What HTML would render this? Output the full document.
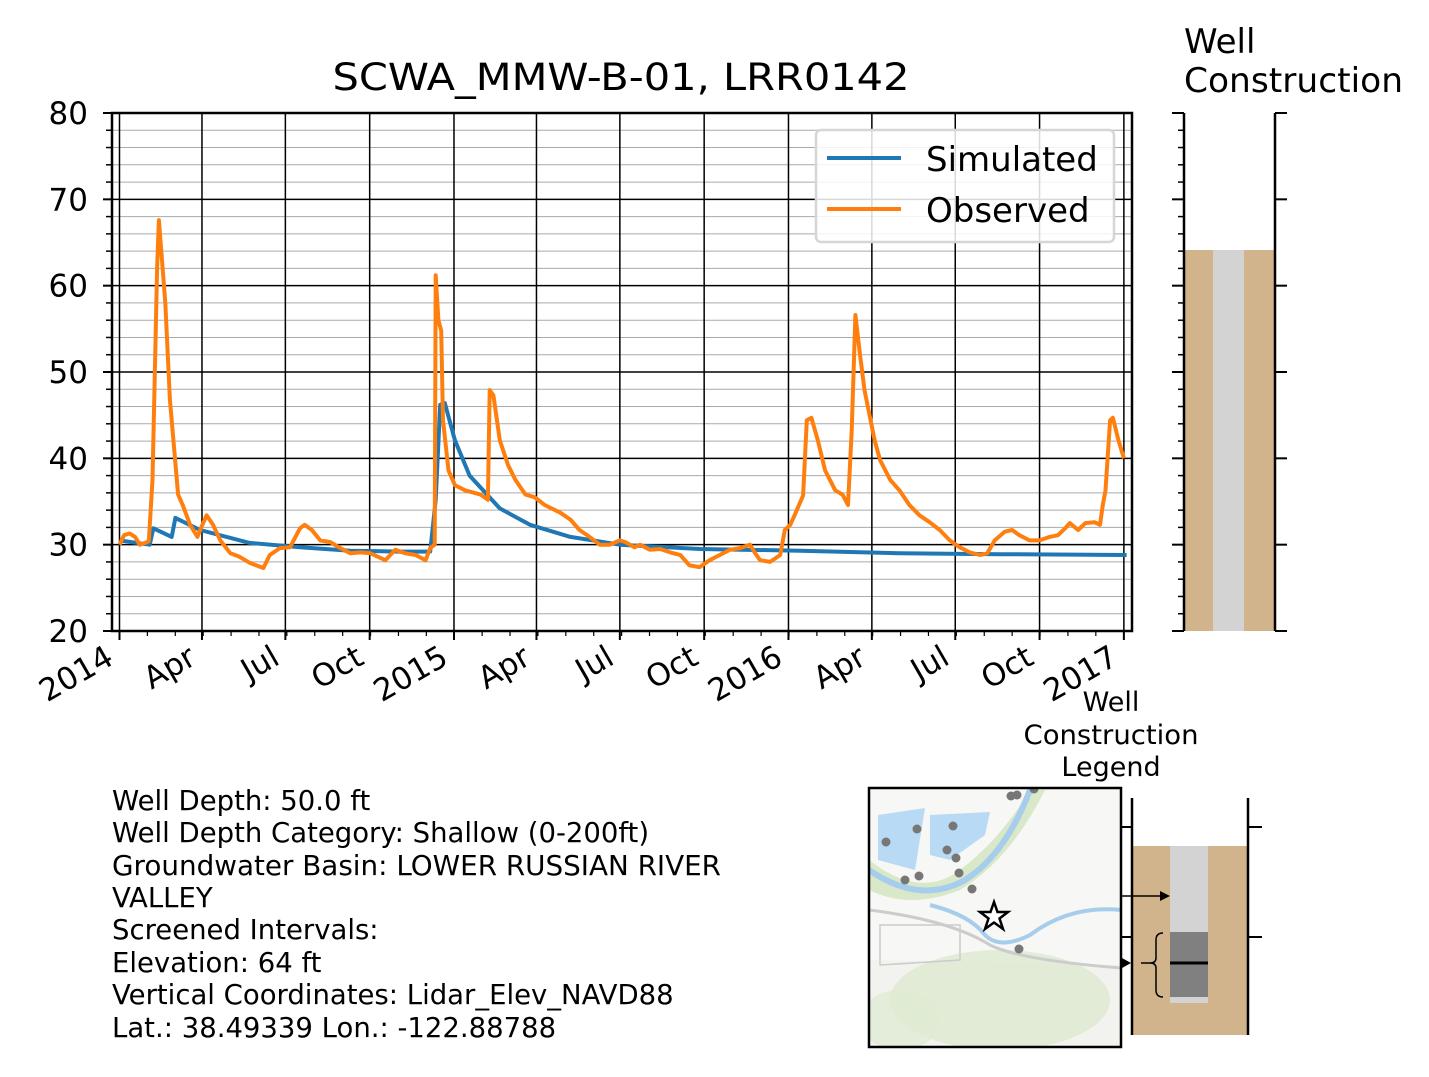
<!DOCTYPE html>
<html><head><meta charset="utf-8"><style>
body{margin:0;background:#fff}
svg text{font-family:"DejaVu Sans","Liberation Sans",sans-serif;fill:#000}
</style></head><body>
<svg id="chart" width="1429" height="1072" viewBox="0 0 1429 1072" xmlns="http://www.w3.org/2000/svg">
<rect width="1429" height="1072" fill="#fff"/>
<text x="621" y="90" font-size="37" text-anchor="middle" textLength="577" lengthAdjust="spacingAndGlyphs">SCWA_MMW-B-01, LRR0142</text>
<g id="grid"></g>
<g id="series"></g>
<g id="axes"></g>
<g>
<rect x="816" y="130" width="298" height="112" rx="5" fill="#fff" fill-opacity="0.85" stroke="#d6d6d6" stroke-width="2.5"/>
<line x1="827" y1="158" x2="901" y2="158" stroke="#1f77b4" stroke-width="4"/>
<text x="926" y="171" font-size="34">Simulated</text>
<line x1="827" y1="209" x2="901" y2="209" stroke="#ff7f0e" stroke-width="4"/>
<text x="926" y="222" font-size="34">Observed</text>
</g>

<g>
<text x="1184" y="53" font-size="34">Well</text>
<text x="1184" y="92" font-size="34" textLength="219" lengthAdjust="spacingAndGlyphs">Construction</text>
<rect x="1184" y="250" width="91" height="381" fill="#d2b48c"/>
<rect x="1213" y="250" width="31" height="381" fill="#d3d3d3"/>
<line x1="1184" y1="113" x2="1184" y2="631" stroke="#000" stroke-width="2.5"/>
<line x1="1275" y1="113" x2="1275" y2="631" stroke="#000" stroke-width="2.5"/>
<g id="wcticks"></g>
</g>

<g font-size="27.5">
<text x="112" y="810">Well Depth: 50.0 ft</text>
<text x="112" y="842">Well Depth Category: Shallow (0-200ft)</text>
<text x="112" y="875" textLength="609" lengthAdjust="spacingAndGlyphs">Groundwater Basin: LOWER RUSSIAN RIVER</text>
<text x="112" y="907">VALLEY</text>
<text x="112" y="939">Screened Intervals:</text>
<text x="112" y="972">Elevation: 64 ft</text>
<text x="112" y="1004">Vertical Coordinates: Lidar_Elev_NAVD88</text>
<text x="112" y="1037">Lat.: 38.49339 Lon.: -122.88788</text>
</g>

<g>
<clipPath id="mc"><rect x="869" y="788" width="252" height="259"/></clipPath>
<g clip-path="url(#mc)">
<rect x="869" y="788" width="252" height="259" fill="#f7f7f5"/>
<path d="M869,960 L1121,965 L1121,1047 L869,1047 Z" fill="#f2f2ee"/>
<ellipse cx="1000" cy="1000" rx="110" ry="50" fill="#dde8cf" opacity="0.8"/>
<ellipse cx="900" cy="1020" rx="40" ry="30" fill="#e0ebd3" opacity="0.8"/>
<path d="M869,860 Q920,900 960,870 Q1000,840 1030,790 L1045,790 Q1010,860 960,890 Q910,910 869,890Z" fill="#d9e8c9"/>
<path d="M878,815 L925,808 L915,870 L878,860Z" fill="#b9daf5"/>
<path d="M930,815 L990,812 L985,835 L950,860 L930,855Z" fill="#b9daf5"/>
<path d="M869,870 Q920,905 965,880 Q1005,855 1030,790" fill="none" stroke="#a7cdec" stroke-width="6"/>
<path d="M930,905 Q970,915 985,935 Q1000,950 1030,935 Q1070,905 1121,910" fill="none" stroke="#a7cdec" stroke-width="4"/>
<path d="M869,910 Q950,920 990,945 Q1020,960 1121,968" fill="none" stroke="#ccc" stroke-width="3"/>
<path d="M880,925 L960,925 L960,960 L880,965Z" fill="none" stroke="#ccc" stroke-width="1.5"/>
<g fill="#777">
<circle cx="1011" cy="796" r="4.5"/><circle cx="1017" cy="795" r="4.5"/><circle cx="1034" cy="789" r="4.5"/>
<circle cx="917" cy="829" r="4.5"/><circle cx="953" cy="826" r="4.5"/><circle cx="886" cy="842" r="4.5"/>
<circle cx="947" cy="850" r="4.5"/><circle cx="956" cy="858" r="4.5"/><circle cx="959" cy="873" r="4.5"/>
<circle cx="905" cy="880" r="4.5"/><circle cx="919" cy="876" r="4.5"/><circle cx="972" cy="889" r="4.5"/>
<circle cx="1019" cy="949" r="4.5"/>
</g>
<path d="M994,902 L997.5,912 L1008,912 L999.5,918.5 L1003,929 L994,922.5 L985,929 L988.5,918.5 L980,912 L990.5,912Z" fill="#fff" stroke="#000" stroke-width="2.5"/>
</g>
<rect x="869" y="788" width="252" height="259" fill="none" stroke="#000" stroke-width="2.5"/>
</g>

<g>
<text x="1111" y="711" font-size="27" text-anchor="middle">Well</text>
<text x="1111" y="744" font-size="27" text-anchor="middle" textLength="175" lengthAdjust="spacingAndGlyphs">Construction</text>
<text x="1111" y="776" font-size="27" text-anchor="middle">Legend</text>
<rect x="1132" y="846" width="116" height="189" fill="#d2b48c"/>
<rect x="1170" y="846" width="38" height="86" fill="#d3d3d3"/>
<rect x="1170" y="932" width="38" height="65" fill="#808080"/>
<rect x="1170" y="997" width="38" height="6" fill="#d3d3d3"/>
<line x1="1170" y1="963" x2="1208" y2="963" stroke="#000" stroke-width="3"/>
<line x1="1132" y1="798" x2="1132" y2="1035" stroke="#000" stroke-width="2.5"/>
<line x1="1248" y1="798" x2="1248" y2="1035" stroke="#000" stroke-width="2.5"/>
<line x1="1122" y1="827" x2="1132" y2="827" stroke="#000" stroke-width="2"/>
<line x1="1248" y1="827" x2="1262" y2="827" stroke="#000" stroke-width="2"/>
<line x1="1122" y1="937" x2="1132" y2="937" stroke="#000" stroke-width="2"/>
<line x1="1248" y1="937" x2="1262" y2="937" stroke="#000" stroke-width="2"/>
<line x1="1122" y1="896" x2="1160" y2="896" stroke="#000" stroke-width="1.5"/>
<path d="M1160,891 L1170,896 L1160,901Z" fill="#000"/>
<path d="M1122,958 L1131,963 L1122,968Z" fill="#000"/>
<path d="M1163,933 Q1156,933 1156,940 L1156,958 Q1156,963 1150,963 Q1156,963 1156,968 L1156,990 Q1156,997 1163,997" fill="none" stroke="#000" stroke-width="1.5"/>
<line x1="1141" y1="963" x2="1150" y2="963" stroke="#000" stroke-width="1.5"/>
</g>
</svg>
<script>
const obsDays=[0,5,11,17,22,28,32,36,41,43,50,55,64,69,77,85,88,95,102,110,121,131,142,157,164,175,186,197,202,210,219,230,241,252,263,274,290,301,312,323,334,339,344,345,348,351,353,359,366,377,394,402,404,408,415,424,432,443,453,464,481,492,502,513,524,535,546,552,562,568,579,590,601,612,622,633,644,655,666,677,688,693,699,710,721,726,732,737,746,750,755,762,770,781,789,795,799,803,808,813,824,830,841,851,862,873,884,895,906,917,928,939,947,955,966,974,982,993,1004,1015,1024,1032,1037,1046,1054,1064,1070,1073,1076,1081,1084,1090,1096];
const obsVals=[30,31.1,31.3,30.9,30,30.2,30.4,37.5,62,67.6,58,46.8,35.8,34.6,32.3,30.9,31.7,33.4,32.3,30.5,29,28.6,27.9,27.3,28.8,29.6,29.7,31.9,32.3,31.7,30.5,30.3,29.6,29,29.1,29,28.2,29.4,29,28.8,28.2,29.6,30,61.2,56,54.8,44.4,38.6,36.9,36.3,35.8,35.2,47.9,47.3,42.1,39.2,37.5,35.8,35.5,34.6,33.7,32.9,31.7,30.9,30,30,30.5,30.3,29.7,30,29.4,29.5,29.1,28.8,27.6,27.4,28.2,28.8,29.4,29.6,30,29.1,28.2,28,28.8,31.7,32.3,33.5,35.7,44.4,44.7,42.1,38.6,36.3,35.8,34.6,43.2,56.6,52,47.9,42.1,39.8,37.5,36.3,34.6,33.4,32.6,31.7,30.5,29.7,29.1,28.8,29,30.5,31.5,31.7,31.1,30.5,30.5,30.9,31.1,31.9,32.5,31.7,32.5,32.6,32.3,34.6,36.3,44.4,44.7,42.1,40];
const simDays=[0,33,37,57,61,88,142,197,252,306,339,345,350,355,366,382,415,448,492,546,633,743,851,961,1099];
const simVals=[30.5,30,31.9,30.9,33.1,31.7,30.2,29.7,29.3,29.2,29.2,35.2,46.2,46.4,42.1,38,34.2,32.3,30.9,30,29.5,29.3,29,28.9,28.8];
const yTicks=[20,30,40,50,60,70,80];
const xTickDays=[0,90,181,273,365,455,546,638,730,821,912,1004,1096];
const xTickLabels=["2014","Apr","Jul","Oct","2015","Apr","Jul","Oct","2016","Apr","Jul","Oct","2017"];
const X0=112,X1=1132,Y0=113,Y1=631;
const xs=d=>119.5+d*0.9164;
const ys=v=>Y1-(v-20)*(Y1-Y0)/60;
const NS="http://www.w3.org/2000/svg";
function mk(tag,attrs,parent){const e=document.createElementNS(NS,tag);for(const k in attrs)e.setAttribute(k,attrs[k]);parent.appendChild(e);return e;}
const grid=document.getElementById('grid'),ser=document.getElementById('series'),ax=document.getElementById('axes'),wct=document.getElementById('wcticks');
for(let v=20;v<=80;v+=2){
  if(v%10===0)continue;
  const g=mk('line',{x1:X0,x2:X1,y1:ys(v),y2:ys(v),stroke:'#aaa','stroke-width':1},grid);
  
  
  mk('line',{x1:X0-6,x2:X0,y1:ys(v),y2:ys(v),stroke:'#000','stroke-width':1.5},ax);
  mk('line',{x1:1178,x2:1184,y1:ys(v),y2:ys(v),stroke:'#000','stroke-width':1.5},wct);
}
yTicks.forEach(v=>{
  const g=mk('line',{x1:X0,x2:X1,y1:ys(v),y2:ys(v),stroke:'#000','stroke-width':1.5},grid);
  
  
  mk('line',{x1:X0-9,x2:X0,y1:ys(v),y2:ys(v),stroke:'#000','stroke-width':2},ax);
  const t=mk('text',{x:X0-24,y:ys(v)+11,'font-size':31,'text-anchor':'end'},ax);
  t.textContent=v;
  
  
  mk('line',{x1:1172,x2:1184,y1:ys(v),y2:ys(v),stroke:'#000','stroke-width':2},wct);
  mk('line',{x1:1275,x2:1287,y1:ys(v),y2:ys(v),stroke:'#000','stroke-width':2},wct);
});
for(let d=0;d<=1096;d+=30.44){
  mk('line',{x1:xs(d),x2:xs(d),y1:Y1,y2:Y1+5,stroke:'#000','stroke-width':1.2},ax);
}
xTickDays.forEach((d,i)=>{
  const x=xs(d);
  const g=mk('line',{x1:x,x2:x,y1:Y0,y2:Y1,stroke:'#000','stroke-width':1.5},grid);
  
  
  mk('line',{x1:x,x2:x,y1:Y1,y2:Y1+9,stroke:'#000','stroke-width':2},ax);
  const t=mk('text',{x:x-4,y:Y1+32,'font-size':31,'text-anchor':'end',transform:`rotate(-30 ${x-4} ${Y1+32})`},ax);
  t.textContent=xTickLabels[i];
  
  
});
mk('rect',{x:X0,y:Y0,width:X1-X0,height:Y1-Y0,fill:'none',stroke:'#000','stroke-width':2.5},ax);
function path(days,vals){return days.map((d,i)=>(i?'L':'M')+xs(d).toFixed(1)+','+ys(vals[i]).toFixed(1)).join(' ');}
const ps=mk('path',{d:path(simDays,simVals),fill:'none',stroke:'#1f77b4','stroke-width':4,'stroke-linejoin':'round'},ser);


const po=mk('path',{d:path(obsDays,obsVals),fill:'none',stroke:'#ff7f0e','stroke-width':4,'stroke-linejoin':'round'},ser);


</script>
</body></html>
